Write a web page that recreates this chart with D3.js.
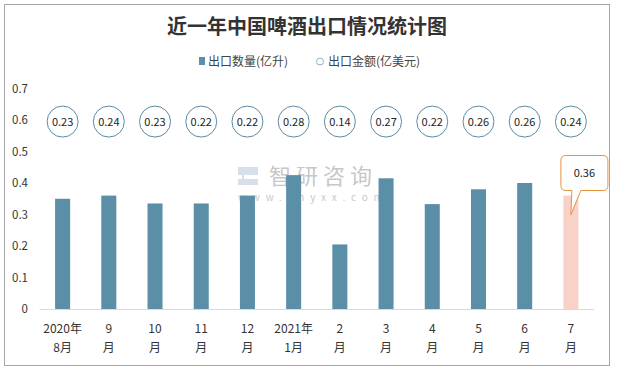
<!DOCTYPE html>
<html>
<head>
<meta charset="utf-8">
<script src="https://cdn.jsdelivr.net/npm/d3@7"></script>
<style>
    body { margin: 0; background: #fff; }
    svg { display: block; font-family: "Noto Sans CJK SC", "Open Sans", sans-serif; }
</style>
</head>
<body>
<div id="chart"></div>
<script>
// 月份（两行标签）
let monthTop = ['2020年', '9', '10', '11', '12', '2021年', '2', '3', '4', '5', '6', '7'];
let monthBottom = ['8月', '月', '月', '月', '月', '1月', '月', '月', '月', '月', '月', '月'];
// 出口数量(亿升)
let volume = [0.35, 0.36, 0.335, 0.335, 0.36, 0.425, 0.205, 0.415, 0.333, 0.38, 0.40, 0.36];
// 出口金额(亿美元)
let amount = [0.23, 0.24, 0.23, 0.22, 0.22, 0.28, 0.14, 0.27, 0.22, 0.26, 0.26, 0.24];
let yTicks = [0, 0.1, 0.2, 0.3, 0.4, 0.5, 0.6, 0.7];

let width = 618;
let height = 370;
let bubbleLevel = 0.595;

let barColor = '#5b8fa7';
let lastColor = '#f8d2c8';
let circleColor = '#5a8aa5';
let calloutColor = '#e8933a';

let svg = d3.select('#chart')
    .append('svg')
    .attr('width', width)
    .attr('height', height);

// outer frame
svg.append('rect')
    .attr('x', 4.5).attr('y', 4.5)
    .attr('width', 605).attr('height', 361)
    .attr('fill', '#fff')
    .attr('stroke', '#a6a6a6');

let xScale = d3.scaleBand()
    .domain(d3.range(monthTop.length))
    .range([39.5, 594])
    .paddingInner(0.675)
    .paddingOuter(0.3375);

let yScale = d3.scaleLinear()
    .domain([0, 0.7])
    .range([309, 88.5]);

// title
svg.append('text')
    .attr('x', 307).attr('y', 34)
    .attr('text-anchor', 'middle')
    .attr('font-size', 20)
    .attr('font-weight', 'bold')
    .attr('fill', '#333')
    .text('近一年中国啤酒出口情况统计图');

// legend
let legend = svg.append('g').attr('font-size', 12).attr('fill', '#444');
legend.append('rect')
    .attr('x', 199).attr('y', 57)
    .attr('width', 6).attr('height', 8)
    .attr('fill', barColor);
legend.append('text')
    .attr('x', 208).attr('y', 66)
    .text('出口数量(亿升)');
legend.append('circle')
    .attr('cx', 320).attr('cy', 61.5).attr('r', 3.5)
    .attr('fill', '#fff')
    .attr('stroke', '#8fb0c4');
legend.append('text')
    .attr('x', 328).attr('y', 66)
    .text('出口金额(亿美元)');

// watermark
let wm = svg.append('g').attr('opacity', 0.55);
wm.append('path')
    .attr('d', 'M238,167h20v8h-14v4h14v6h-20v-6h4v-4h-4z')
    .attr('fill', '#b8c6dc');
wm.append('text')
    .attr('x', 269).attr('y', 184)
    .attr('font-size', 22)
    .attr('fill', '#9a9a9a')
    .attr('letter-spacing', 5)
    .text('智研咨询');
wm.append('text')
    .attr('x', 238).attr('y', 201)
    .attr('font-size', 10)
    .attr('fill', '#9a9a9a')
    .attr('letter-spacing', 5.8)
    .text('www.chyxx.com');

// y axis labels
let yAxis = d3.axisLeft(yScale)
    .tickValues(yTicks)
    .tickSize(0)
    .tickPadding(0)
    .tickFormat(d => d3.format('~g')(d));
svg.append('g')
    .attr('transform', 'translate(28,0)')
    .call(yAxis)
    .call(g => g.select('.domain').remove())
    .call(g => g.selectAll('text')
        .attr('font-size', 11.5)
        .attr('fill', '#333')
        .attr('font-family', '"Noto Sans CJK SC", sans-serif'));

// bars
svg.append('g')
    .selectAll('rect')
    .data(volume)
    .join('rect')
    .attr('x', (d, i) => xScale(i))
    .attr('y', d => yScale(d))
    .attr('width', xScale.bandwidth())
    .attr('height', d => yScale(0) - yScale(d))
    .attr('fill', (d, i) => i === volume.length - 1 ? lastColor : barColor);

// x axis line
svg.append('line')
    .attr('x1', 39.5).attr('x2', 594)
    .attr('y1', 309.5).attr('y2', 309.5)
    .attr('stroke', '#d9d9d9');

// x labels
let xl = svg.append('g')
    .attr('font-size', 12)
    .attr('fill', '#333')
    .attr('text-anchor', 'middle');
xl.selectAll('text.top')
    .data(monthTop)
    .join('text')
    .attr('class', 'top')
    .attr('x', (d, i) => xScale(i) + xScale.bandwidth() / 2)
    .attr('y', 333)
    .text(d => d);
xl.selectAll('text.bottom')
    .data(monthBottom)
    .join('text')
    .attr('class', 'bottom')
    .attr('x', (d, i) => xScale(i) + xScale.bandwidth() / 2)
    .attr('y', 352)
    .text(d => d);

// amount bubbles
let bubbles = svg.append('g')
    .selectAll('g')
    .data(amount)
    .join('g')
    .attr('transform', (d, i) => `translate(${xScale(i) + xScale.bandwidth() / 2},${yScale(bubbleLevel)})`);
bubbles.append('circle')
    .attr('r', 15.5)
    .attr('fill', '#fff')
    .attr('stroke', circleColor);
bubbles.append('text')
    .attr('text-anchor', 'middle')
    .attr('y', 4)
    .attr('font-size', 11)
    .attr('fill', '#222')
    .text(d => d3.format('.2f')(d));

// callout for last volume
let li = volume.length - 1;
let cx = xScale(li) + xScale.bandwidth() / 2;
let tipY = yScale(volume[li]) + 19;
let bx0 = cx - 10, bx1 = cx + 37, by0 = 155.5, by1 = 190.5, r = 5;
let callout = svg.append('g');
callout.append('path')
    .attr('d', `M${bx0 + r},${by0} H${bx1 - r} Q${bx1},${by0} ${bx1},${by0 + r}` +
        ` V${by1 - r} Q${bx1},${by1} ${bx1 - r},${by1}` +
        ` H${cx + 10} L${cx},${tipY} L${cx + 1},${by1}` +
        ` H${bx0 + r} Q${bx0},${by1} ${bx0},${by1 - r}` +
        ` V${by0 + r} Q${bx0},${by0} ${bx0 + r},${by0} Z`)
    .attr('fill', '#fff')
    .attr('stroke', calloutColor);
callout.append('text')
    .attr('x', (bx0 + bx1) / 2)
    .attr('y', (by0 + by1) / 2 + 4)
    .attr('text-anchor', 'middle')
    .attr('font-size', 11)
    .attr('fill', '#222')
    .text(d3.format('.2f')(volume[li]));
</script>
</body>
</html>
